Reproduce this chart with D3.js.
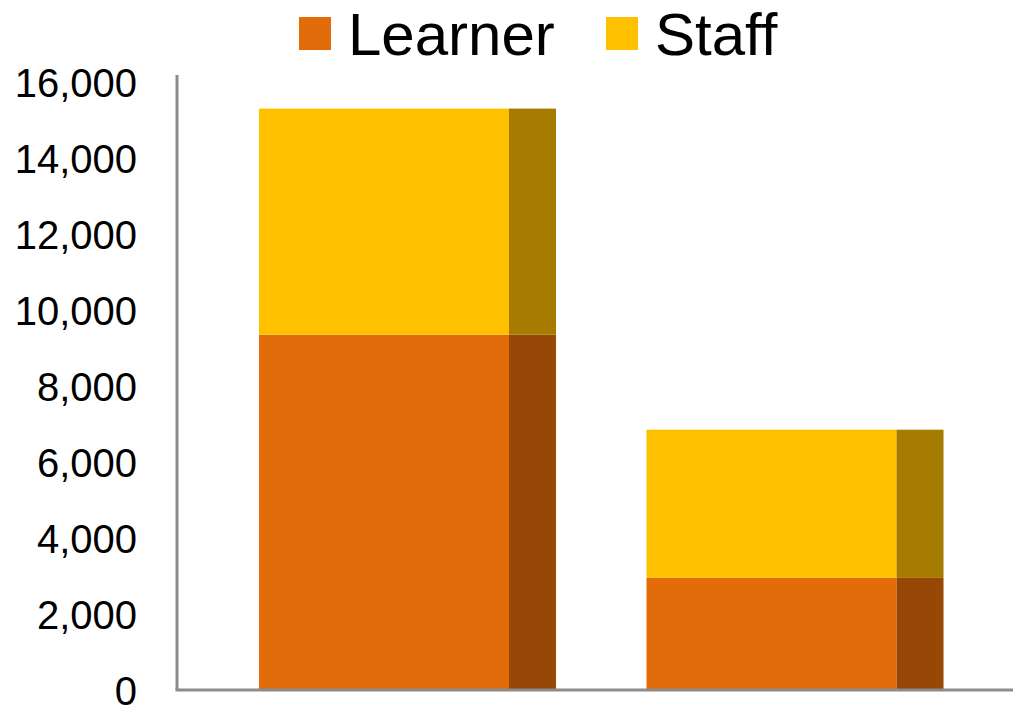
<!DOCTYPE html>
<html>
<head>
<meta charset="utf-8">
<script src="https://cdn.jsdelivr.net/npm/d3@7"></script>
<style>
  body { margin: 0; background: #fff; }
  svg { display: block; font-family: "Liberation Sans", Arial, sans-serif; }
</style>
</head>
<body>
<div id="chart"></div>
<script>
// dados do gráfico
const categories = ["A", "B"];
const learner = [9350, 2950];
const staff = [5950, 3900];
const yTicks = [0, 2000, 4000, 6000, 8000, 10000, 12000, 14000, 16000];
const seriesNames = ["Learner", "Staff"];

const width = 1013, height = 706;
const colors = { Learner: "#E36C0A", Staff: "#FFC000" };
const sideColors = { Learner: "#974706", Staff: "#A67C00" };

const svg = d3.select("#chart").append("svg")
  .attr("width", width)
  .attr("height", height);

const y = d3.scaleLinear().domain([0, 16000]).range([690, 82]);
const x = d3.scaleBand().domain(categories).range([168.5, 1034]).padding(0.2335);

// empilhamento
const rows = categories.map((c, i) => ({ cat: c, Learner: learner[i], Staff: staff[i] }));
const stacked = d3.stack().keys(seriesNames)(rows);

const sideW = x.bandwidth() * 47 / 297;

stacked.forEach((layer) => {
  const g = svg.append("g");
  // face frontal
  g.selectAll("rect.front")
    .data(layer)
    .enter()
    .append("rect")
    .attr("class", "front")
    .attr("x", (d) => x(d.data.cat))
    .attr("width", x.bandwidth() - sideW)
    .attr("y", (d) => y(d[1]))
    .attr("height", (d) => y(d[0]) - y(d[1]))
    .attr("fill", colors[layer.key]);
  // lateral escura
  g.selectAll("rect.side")
    .data(layer)
    .enter()
    .append("rect")
    .attr("class", "side")
    .attr("x", (d) => x(d.data.cat) + x.bandwidth() - sideW)
    .attr("width", sideW)
    .attr("y", (d) => y(d[1]))
    .attr("height", (d) => y(d[0]) - y(d[1]))
    .attr("fill", sideColors[layer.key]);
});

// eixos
svg.append("line")
  .attr("x1", 177).attr("x2", 177)
  .attr("y1", 75).attr("y2", y(0))
  .attr("stroke", "#8c8c8c").attr("stroke-width", 3);
svg.append("line")
  .attr("x1", 175.5).attr("x2", width)
  .attr("y1", y(0)).attr("y2", y(0))
  .attr("stroke", "#8c8c8c").attr("stroke-width", 3);

const yAxis = svg.append("g")
  .attr("transform", "translate(137,0)")
  .call(d3.axisLeft(y).tickValues(yTicks).tickSize(0).tickPadding(0).tickFormat(d3.format(",")));
yAxis.select(".domain").remove();
yAxis.selectAll("text")
  .attr("font-size", "40px")
  .attr("font-family", "Liberation Sans, Arial, sans-serif")
  .attr("fill", "#000")
  .attr("dy", "0.36em");

// legenda
const legendPos = [{ sx: 299, tx: 348 }, { sx: 606, tx: 655 }];
seriesNames.forEach((name, i) => {
  svg.append("rect")
    .attr("x", legendPos[i].sx).attr("y", 17)
    .attr("width", 32).attr("height", 33)
    .attr("fill", colors[name]);
  svg.append("text")
    .attr("x", legendPos[i].tx).attr("y", 55)
    .attr("font-size", "60px")
    .attr("fill", "#000")
    .text(name);
});
</script>
</body>
</html>
